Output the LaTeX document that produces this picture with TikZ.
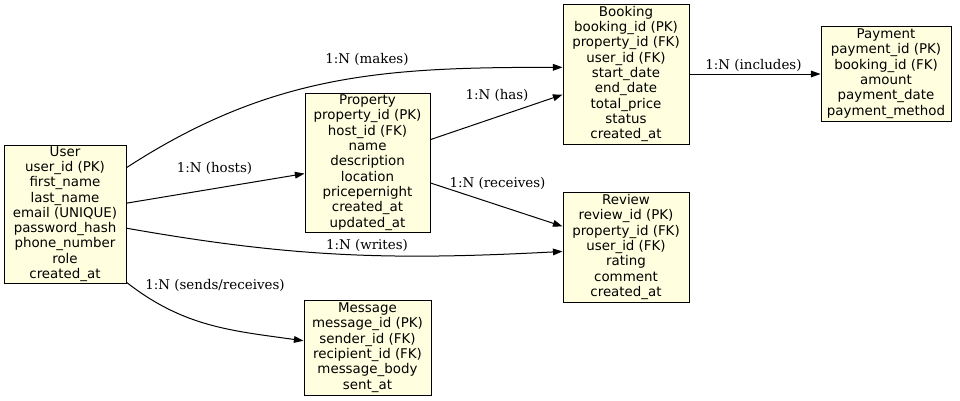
\documentclass[tikz,border=0pt]{standalone}
\usepackage{fontspec}
\setmainfont{DejaVu Serif}
\setsansfont{DejaVu Sans}
\usetikzlibrary{arrows.meta}
\definecolor{lightyel}{HTML}{FFFFE0}

\begin{document}
\begin{tikzpicture}[x=1pt,y=1pt]
\tikzstyle{every node}+=[inner sep=0pt]
\tikzstyle{entity}=[draw=black, line width=1pt, fill=lightyel, align=center, font=\sffamily\fontsize{13.4}{15.3}\selectfont]
\tikzstyle{rel}=[font=\fontsize{13.4}{15.3}\selectfont]
\tikzstyle{link}=[black, line width=1pt, -{Triangle[length=9.6pt,width=6.7pt]}]
\useasboundingbox (0,0) rectangle (960,-400);
% entities
\node [entity, minimum width=122, minimum height=138] (user) at (65,-214)
  {User\\user\_id (PK)\\first\_name\\last\_name\\email (UNIQUE)\\password\_hash\\phone\_number\\role\\created\_at};
\node [entity, minimum width=125, minimum height=139] (property) at (367.5,-162.5)
  {Property\\property\_id (PK)\\host\_id (FK)\\name\\description\\location\\pricepernight\\created\_at\\updated\_at};
\node [entity, minimum width=126, minimum height=140] (booking) at (626,-74)
  {Booking\\booking\_id (PK)\\property\_id (FK)\\user\_id (FK)\\start\_date\\end\_date\\total\_price\\status\\created\_at};
\node [entity, minimum width=130, minimum height=95] (payment) at (886,-73.5)
  {Payment\\payment\_id (PK)\\booking\_id (FK)\\amount\\payment\_date\\payment\_method};
\node [entity, minimum width=126, minimum height=110] (review) at (626,-247)
  {Review\\review\_id (PK)\\property\_id (FK)\\user\_id (FK)\\rating\\comment\\created\_at};
\node [entity, minimum width=127, minimum height=95] (message) at (367.5,-347.5)
  {Message\\message\_id (PK)\\sender\_id (FK)\\recipient\_id (FK)\\message\_body\\sent\_at};
% relations
\draw [link] (user.37) to[out=33,in=180] (booking.174);
\node [rel] (makes) at (367,-59) {1:N (makes)};
\draw [link] (user.10) -- (property.190);
\node [rel] (hosts) at (214.5,-168) {1:N (hosts)};
\draw [link] (user.-13) to[out=-10,in=183] (review.184);
\node [rel] (writes) at (367,-245) {1:N (writes)};
\draw [link] (user.-48) to[out=-38,in=172] (message.174);
\node [rel] (sends) at (215,-285) {1:N (sends/receives)};
\draw [link] (property.20) -- (booking.198);
\node [rel] (has) at (497,-95) {1:N (has)};
\draw [link] (property.-18) -- (review.162);
\node [rel] (receives) at (497.5,-183) {1:N (receives)};
\draw [link] (booking.east) -- (booking.east -| payment.west);
\node [rel] (includes) at (753.5,-65) {1:N (includes)};
\end{tikzpicture}
\end{document}
